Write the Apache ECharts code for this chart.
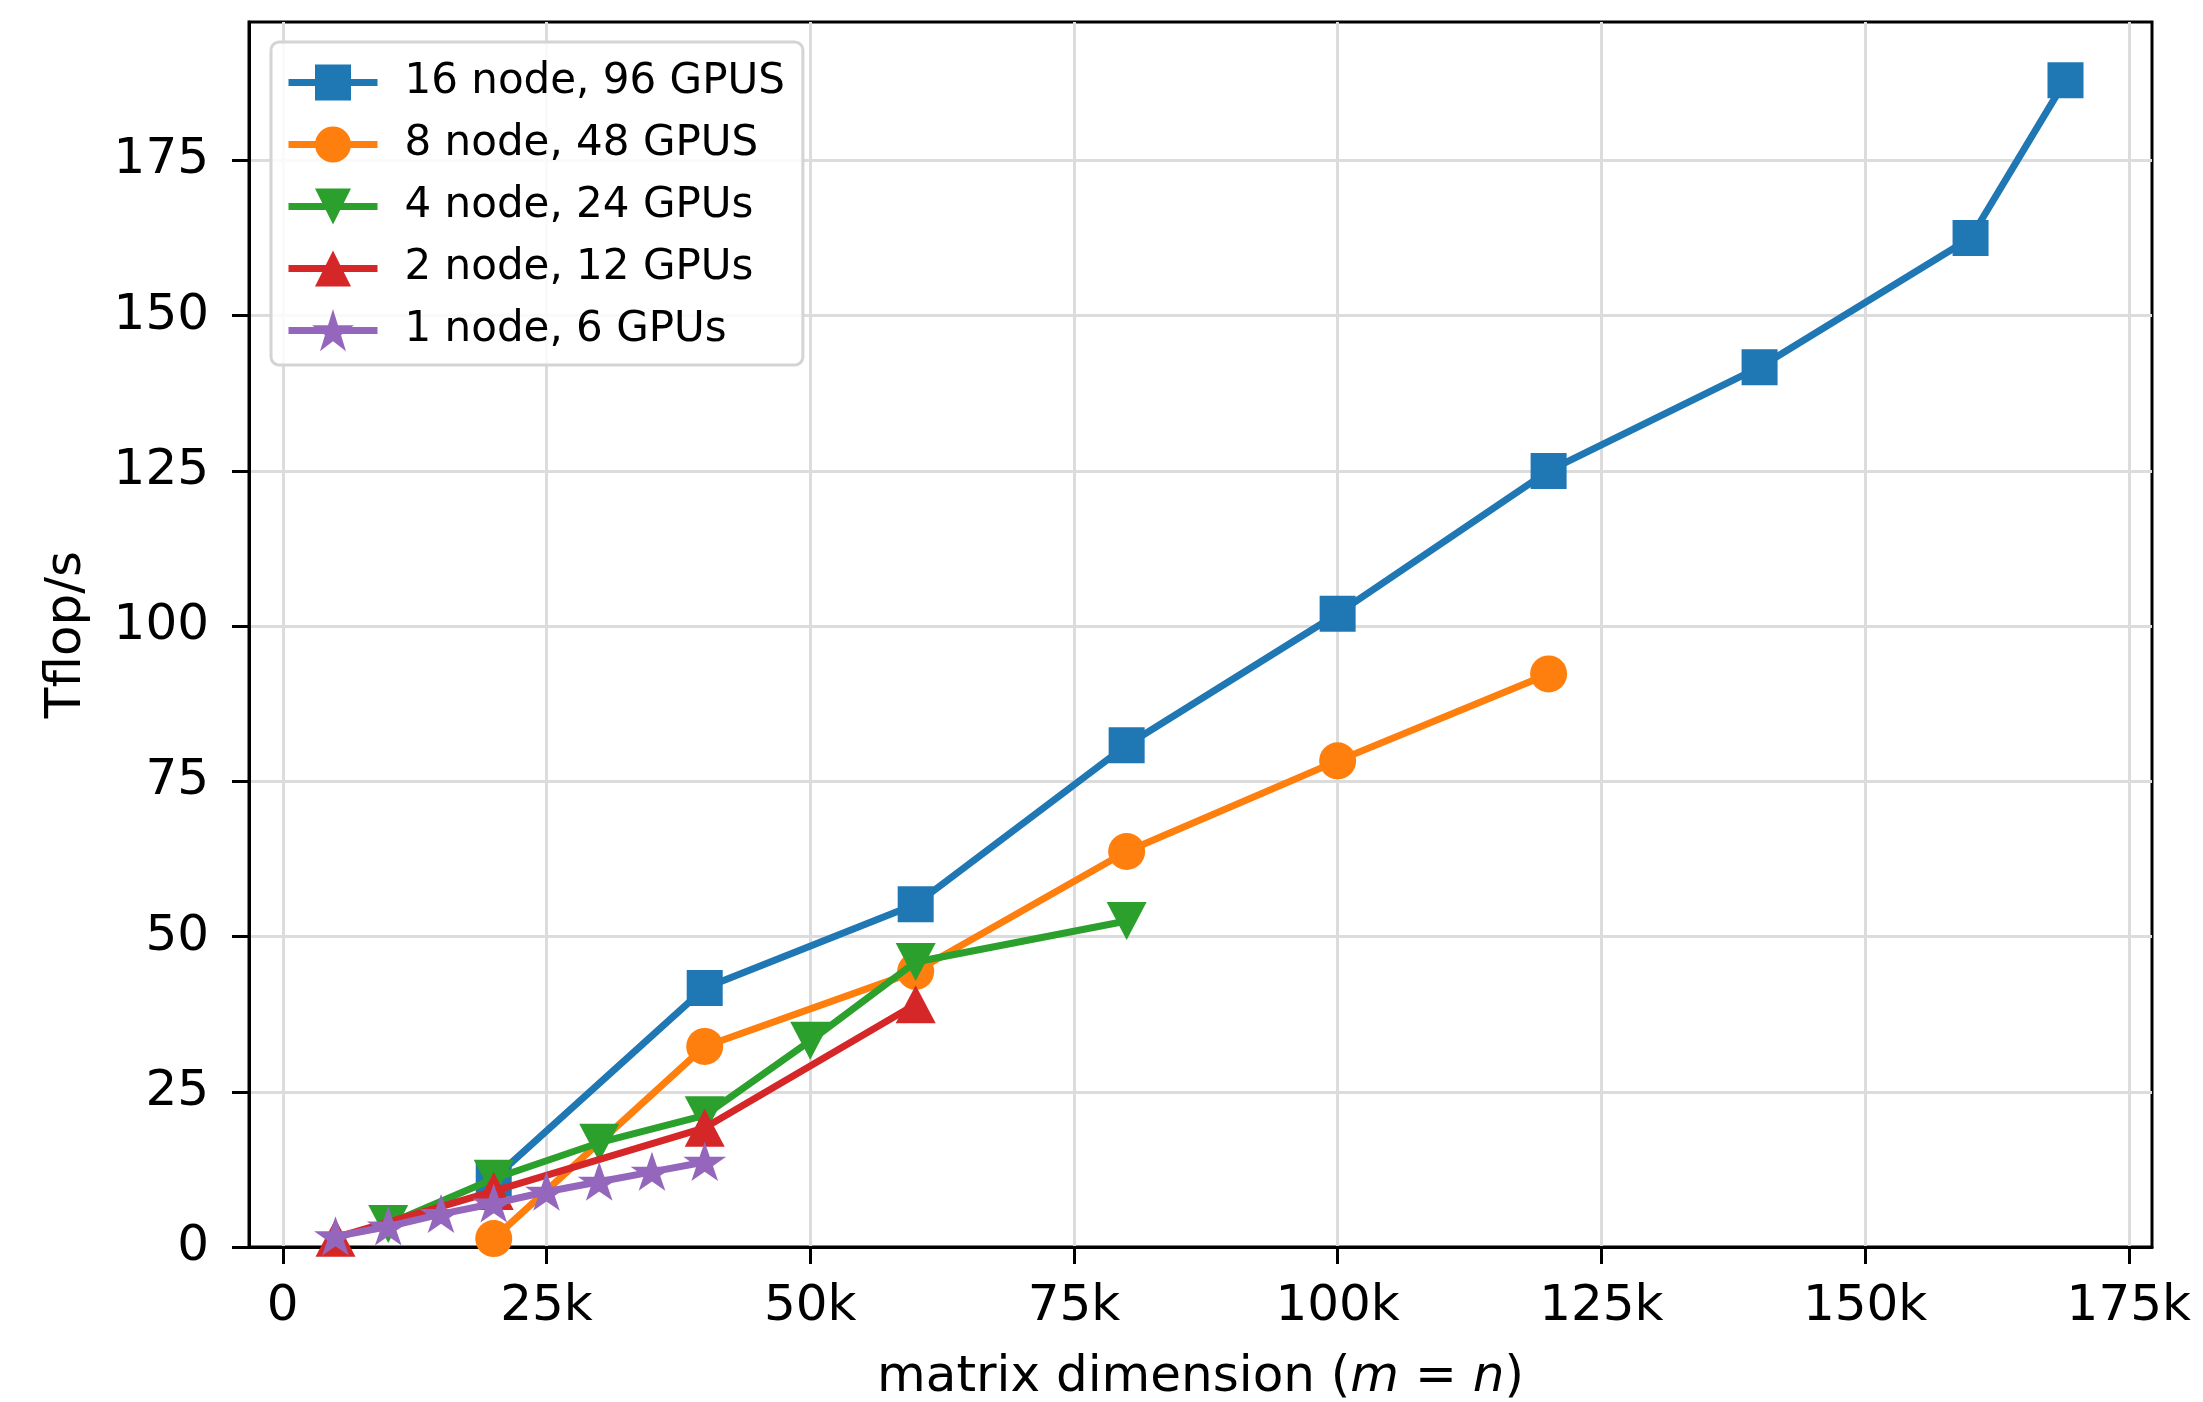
<!DOCTYPE html>
<html>
<head>
<meta charset="utf-8">
<script src="https://cdn.jsdelivr.net/npm/echarts@6/dist/echarts.min.js"></script>
<style>
html,body{margin:0;padding:0;background:#fff;overflow:hidden;}
#chart{width:2203px;height:1402px;}
</style>
</head>
<body>
<div id="chart"></div>
<script>
// ---- data (x in thousands) ----
const seriesNames = ['16 node, 96 GPUS', '8 node, 48 GPUS', '4 node, 24 GPUs', '2 node, 12 GPUs', '1 node, 6 GPUs'];
const xBlue = [20, 40, 60, 80, 100, 120, 140, 160, 169];
const yBlue = [11.0, 41.7, 55.2, 80.8, 102.0, 125.0, 141.7, 162.5, 187.9];
const xOrange = [20, 40, 60, 80, 100, 120];
const yOrange = [1.35, 32.3, 44.4, 63.7, 78.3, 92.3];
const xGreen = [10, 20, 30, 40, 50, 60, 80];
const yGreen = [3.7, 11.0, 16.8, 21.2, 33.2, 45.9, 52.5];
const xRed = [5, 20, 40, 60];
const yRed = [1.5, 9.0, 19.2, 39.1];
const xPurple = [5, 10, 15, 20, 25, 30, 35, 40];
const yPurple = [1.7, 3.3, 5.3, 7.0, 8.9, 10.5, 12.1, 13.7];
const xTicks = [0, 25, 50, 75, 100, 125, 150, 175];
const yTicks = [0, 25, 50, 75, 100, 125, 150, 175];

const colors = ['#1f77b4', '#ff7f0e', '#2ca02c', '#d62728', '#9467bd'];
const FONT = 'DejaVu Sans';
const starPath = 'path://M0,-1L0.2245,-0.309L0.951,-0.309L0.3633,0.118L0.588,0.809L0,0.382L-0.588,0.809L-0.3633,0.118L-0.951,-0.309L-0.2245,-0.309Z';

function pairs(xs, ys) { return xs.map((x, i) => [x, ys[i]]); }

const xsAll = [xBlue, xOrange, xGreen, xRed, xPurple];
const ysAll = [yBlue, yOrange, yGreen, yRed, yPurple];
const symbols = ['rect', 'circle', 'triangle', 'triangle', starPath];
const symbolSizes = [36, 37, [40, 38], [40, 38], [32, 29]];
const symbolRotates = [0, 0, 180, 0, 0];
const borderWidths = [0, 0, 0, 0, 3.5];

const series = seriesNames.map((name, i) => ({
  name: name,
  type: 'line',
  data: pairs(xsAll[i], ysAll[i]),
  symbol: symbols[i],
  symbolSize: symbolSizes[i],
  symbolRotate: symbolRotates[i],
  symbolKeepAspect: false,
  showAllSymbol: true,
  z: 2 + i,
  lineStyle: { color: colors[i], width: 7, join: 'round', cap: 'butt' },
  itemStyle: { color: colors[i], borderColor: colors[i], borderWidth: borderWidths[i], borderJoin: 'miter' },
  emphasis: { disabled: true },
  animation: false
}));

const chart = echarts.init(document.getElementById('chart'), null, { renderer: 'canvas' });
chart.setOption({
  animation: false,
  backgroundColor: '#ffffff',
  grid: {
    left: 249, right: 51, top: 22, bottom: 155,
    outerBoundsMode: 'none', containLabel: false,
    show: true, borderColor: '#000', borderWidth: 3, backgroundColor: 'transparent'
  },
  legend: {
    data: seriesNames,
    orient: 'vertical',
    left: 271, top: 42,
    padding: [18, 18, 12, 14],
    itemWidth: 89, itemHeight: 45, itemGap: 17,
    backgroundColor: 'rgba(255,255,255,0.85)',
    borderColor: '#d4d4d4', borderWidth: 3, borderRadius: 8,
    lineStyle: { width: 7 },
    textStyle: { fontFamily: FONT, fontSize: 42, color: '#000', padding: [0, 0, 0, 22], lineHeight: 45 },
    selectedMode: false,
    z: 20
  },
  xAxis: {
    type: 'value', min: -3.2, max: 177.2,
    name: '{a|matrix dimension (}{i|m}{a| = }{i|n}{a|)}',
    nameLocation: 'middle', nameGap: 106,
    nameTextStyle: {
      rich: {
        a: { fontFamily: FONT, fontSize: 50, color: '#000' },
        i: { fontFamily: FONT, fontSize: 50, color: '#000', fontStyle: 'italic' }
      }
    },
    axisLine: { show: true, onZero: false, lineStyle: { color: '#000', width: 3 } },
    axisTick: { show: true, inside: false, length: 17, customValues: xTicks, lineStyle: { color: '#000', width: 3 } },
    axisLabel: {
      customValues: xTicks, margin: 35, fontFamily: FONT, fontSize: 50, color: '#000',
      formatter: v => (v === 0 ? '0' : v + 'k')
    },
    splitLine: { show: true, lineStyle: { color: '#dcdcdc', width: 3 } }
  },
  yAxis: {
    type: 'value', min: 0, max: 197.3,
    name: 'Tflop/s', nameLocation: 'middle', nameGap: 157, nameRotate: 90,
    nameTextStyle: { fontFamily: FONT, fontSize: 50, color: '#000' },
    axisLine: { show: true, onZero: false, lineStyle: { color: '#000', width: 3 } },
    axisTick: { show: true, inside: false, length: 17, customValues: yTicks, lineStyle: { color: '#000', width: 3 } },
    axisLabel: { customValues: yTicks, margin: 40, fontFamily: FONT, fontSize: 50, color: '#000', padding: [8, 0, 0, 0] },
    splitLine: { show: true, lineStyle: { color: '#dcdcdc', width: 3 } }
  },
  series: series
});
</script>
</body>
</html>
